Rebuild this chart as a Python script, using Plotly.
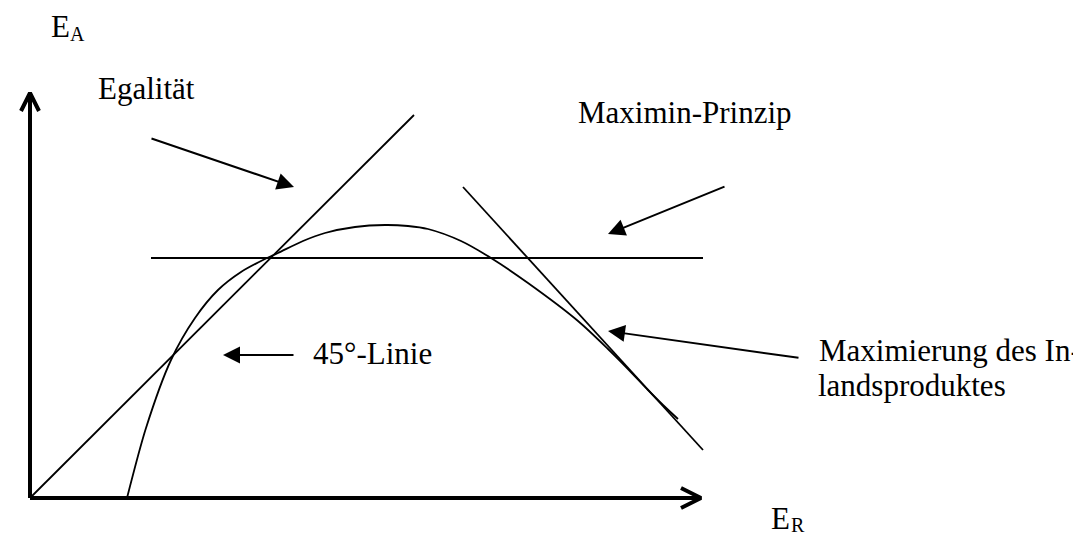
import plotly.graph_objects as go

# origin of the diagram sits at pixel (22, 490); data units are pixels from there
ox, oy = 22, 490

# hump-shaped curve (E_R, E_A)
curve_x = [97, 116, 141, 165, 188, 211, 235, 248, 273, 295, 325, 355, 378, 398, 431, 461,
           498, 548, 578, 598, 618, 633, 648]
curve_y = [0, 70, 138, 180, 208, 226, 239, 245, 257, 265, 271, 273, 272, 269, 257, 240,
           215, 177, 149, 129, 108, 93, 79]

# 45-degree line
diag_x = [0, 384]
diag_y = [0, 383]

# maximin level line
maximin_x = [121, 673]
maximin_y = [240, 240]

# tangent (maximum of domestic product)
tangent_x = [433, 673]
tangent_y = [311, 48]

# axes
yaxis_x = [0, 0]
yaxis_y = [0, 405]
xaxis_x = [0, 671]
xaxis_y = [0, 0]

# label arrows: (tail x, tail y, tip x, tip y)
arrows = {
    'Egalität': (120, 360, 264, 311),
    'Maximin-Prinzip': (696, 312, 578, 264),
    '45°-Linie': (265, 143, 193, 143),
    'Maximierung': (770, 140, 578, 167),
}

font_name = 'Liberation Serif'


def px(x, y):
    return x - ox, oy - y


fig = go.Figure()

line_style = dict(color='black', width=1.8)
fig.add_trace(go.Scatter(x=curve_x, y=curve_y, mode='lines',
                         line=dict(color='black', width=1.8, shape='spline', smoothing=0.8)))
fig.add_trace(go.Scatter(x=diag_x, y=diag_y, mode='lines', line=line_style))
fig.add_trace(go.Scatter(x=maximin_x, y=maximin_y, mode='lines', line=line_style))
fig.add_trace(go.Scatter(x=tangent_x, y=tangent_y, mode='lines', line=line_style))

axis_style = dict(color='black', width=4)
fig.add_trace(go.Scatter(x=yaxis_x, y=yaxis_y, mode='lines', line=axis_style))
fig.add_trace(go.Scatter(x=xaxis_x, y=xaxis_y, mode='lines', line=axis_style))
# open chevron heads on the axes
fig.add_trace(go.Scatter(x=[yaxis_x[1] - 9, yaxis_x[1], yaxis_x[1] + 9],
                         y=[yaxis_y[1] - 18, yaxis_y[1], yaxis_y[1] - 18],
                         mode='lines', line=axis_style))
fig.add_trace(go.Scatter(x=[xaxis_x[1] - 20, xaxis_x[1], xaxis_x[1] - 20],
                         y=[xaxis_y[1] - 10, xaxis_y[1], xaxis_y[1] + 10],
                         mode='lines', line=axis_style))

for name, (tx, ty, hx, hy) in arrows.items():
    fig.add_annotation(x=hx, y=hy, ax=tx, ay=ty, xref='x', yref='y', axref='x', ayref='y',
                       text='', showarrow=True, arrowhead=2, arrowsize=1.7, arrowwidth=2,
                       arrowcolor='black', standoff=0, startstandoff=0)


def label(text, left, center, size=31):
    x, y = px(left, center)
    fig.add_annotation(x=x, y=y, xref='x', yref='y', text=text, showarrow=False,
                       xanchor='left', yanchor='middle', borderpad=0,
                       font=dict(family=font_name, size=size, color='black'))


label('E', 42, 18)
label('A', 61, 26, size=20)
label('Egalität', 89, 80)
label('Maximin-Prinzip', 569, 104)
label('45°-Linie', 304, 345)
label('Maximierung des In-', 810, 342)
label('landsproduktes', 809, 377)
label('E', 762, 510)
label('R', 782, 517, size=20)

fig.update_layout(
    width=1081,
    height=534,
    margin=dict(l=0, r=0, t=0, b=0),
    showlegend=False,
    plot_bgcolor='white',
    paper_bgcolor='white',
    xaxis=dict(range=[-ox, 1081 - ox], visible=False, fixedrange=True),
    yaxis=dict(range=[oy - 534, oy], visible=False, fixedrange=True),
)

fig.write_html('out.html')
